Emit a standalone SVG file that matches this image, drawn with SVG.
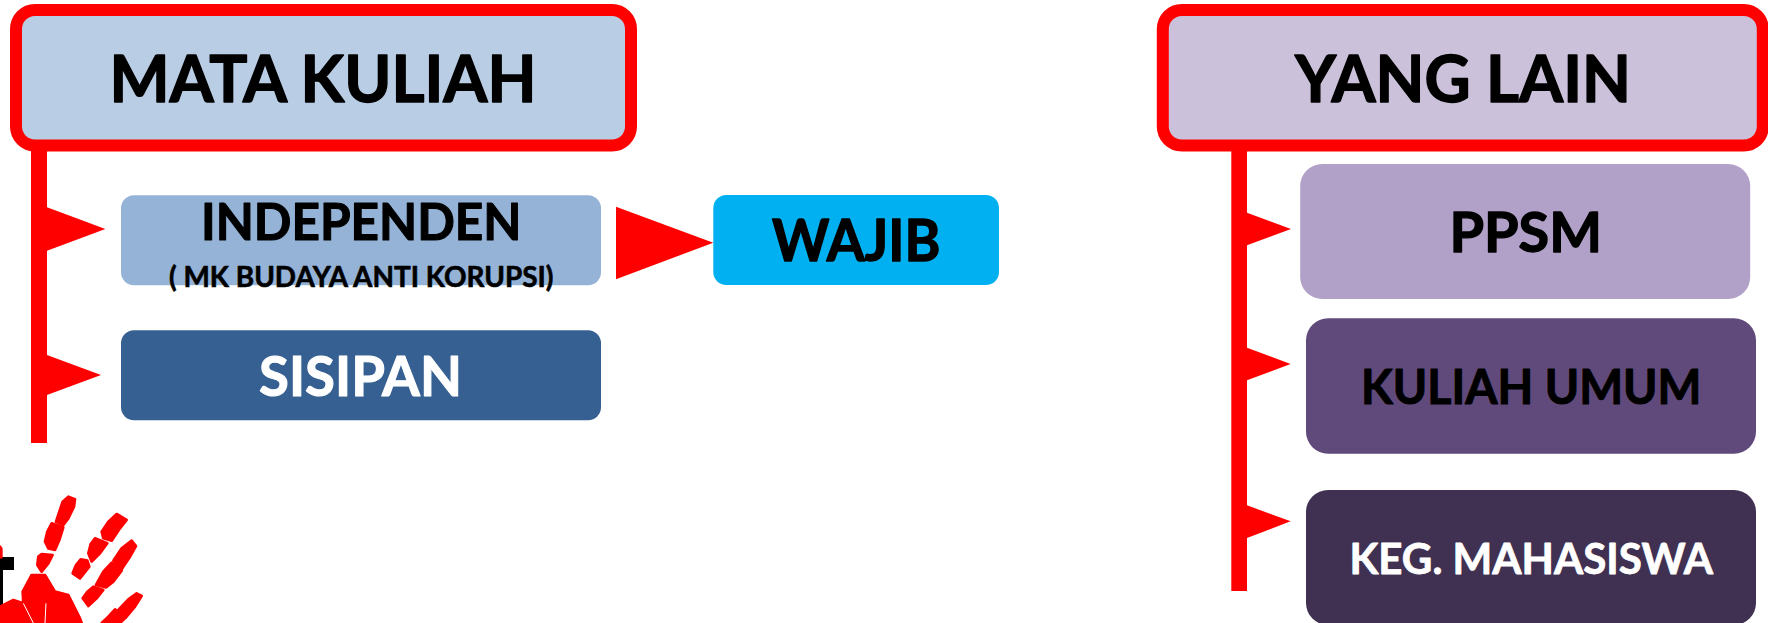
<svg xmlns="http://www.w3.org/2000/svg" width="1768" height="623" viewBox="0 0 1768 623">
<style>
text{font-family:Lato,"Open Sans","Liberation Sans",sans-serif;font-weight:700;fill:#000;stroke:#000;stroke-linejoin:round;}
.w{fill:#fff;stroke:#fff;}
.head{stroke:#f00;stroke-width:12;}
.c{fill:#f00;}
</style>
<rect width="1768" height="623" fill="#fff"/>
<g id="logo">
<rect x="0" y="557" width="14" height="13" fill="#000"/>
<rect x="0" y="570" width="3" height="36" fill="#000"/>
<g transform="translate(0,470) scale(0.33333)" fill="#f00" stroke="#f00" stroke-width="8" stroke-linejoin="round">
<path d="M0 230L4 236V262H0Z"/>
<path d="M205 80L225 88L222 110L205 145L190 165L168 155L178 125L188 95Z"/>
<path d="M155 160L190 172L178 210L165 240L145 235L135 215L142 185Z"/>
<path d="M125 252L158 255L145 280L125 305L112 285L115 260Z"/>
<path d="M350 132L380 150L360 175L335 212L310 205L305 185L325 155Z"/>
<path d="M285 205L322 220L300 250L275 275L265 250L272 222Z"/>
<path d="M242 268L262 272L268 290L240 325L218 310L228 285Z"/>
<path d="M395 212L408 228L390 260L365 298L340 272L365 235Z"/>
<path d="M335 278L365 302L340 335L318 352L288 345L310 305Z"/>
<path d="M280 350L310 360L290 385L265 408L248 385L262 365Z"/>
<path d="M410 370L425 378L405 410L378 442L355 420L385 388Z"/>
<path d="M345 418L375 445L360 459H305L325 440Z"/>
<path d="M95 315L135 315L165 365L205 375L240 445L245 459H0V410L40 390L70 400L68 365Z"/>
<path d="M70 400L100 459M138 400L135 459" stroke="#fff" stroke-width="3" fill="none"/>
</g>
</g>
<g id="connectors">
<rect class="c" x="31" y="140" width="16" height="303"/>
<polygon class="c" points="47,207.3 105.4,229 47,250.7"/>
<polygon class="c" points="47,355 101,375 47,395"/>
<polygon class="c" points="616,206.7 713.3,242.7 616,279.3"/>
<rect class="c" x="1231.3" y="140" width="15.7" height="451"/>
<polygon class="c" points="1247,212.7 1291,229 1247,245.3"/>
<polygon class="c" points="1247,347.7 1290.6,364 1247,380.3"/>
<polygon class="c" points="1247,505.3 1290.6,521.3 1247,538"/>
</g>
<g id="mata-kuliah">
<rect class="head" x="16" y="10" width="615" height="135.5" rx="19" fill="#B9CDE5"/>
<text x="109.5" y="102.4" font-size="65" stroke-width="1.4" textLength="427" lengthAdjust="spacingAndGlyphs">MATA KULIAH</text>
</g>
<g id="independen">
<rect x="121" y="195.3" width="480" height="90" rx="13" fill="#95B3D7"/>
<text x="201" y="240.4" font-size="51" stroke-width="1.1" textLength="320.4" lengthAdjust="spacingAndGlyphs">INDEPENDEN</text>
<text x="169" y="286.5" font-size="28" stroke-width="0.6" textLength="384.5" lengthAdjust="spacingAndGlyphs">( MK BUDAYA ANTI KORUPSI)</text>
</g>
<g id="sisipan">
<rect x="121" y="330.3" width="480" height="90" rx="13" fill="#366092"/>
<text class="w" x="259" y="396.4" font-size="56" stroke-width="1.1" textLength="203" lengthAdjust="spacingAndGlyphs">SISIPAN</text>
</g>
<g id="wajib">
<rect x="713.3" y="195" width="285.7" height="90" rx="13" fill="#00B0F0"/>
<text x="772" y="261.4" font-size="57" stroke-width="1.3" textLength="168.5" lengthAdjust="spacingAndGlyphs">WAJIB</text>
</g>
<g id="yang-lain">
<rect class="head" x="1162.8" y="10" width="600" height="135.5" rx="19" fill="#CCC1DA"/>
<text x="1295" y="102.4" font-size="65" stroke-width="1.4" textLength="336" lengthAdjust="spacingAndGlyphs">YANG LAIN</text>
</g>
<g id="ppsm">
<rect x="1300.2" y="164" width="450" height="135" rx="22" fill="#B1A0C7"/>
<text x="1449.5" y="252.4" font-size="56" stroke-width="1.3" textLength="152.5" lengthAdjust="spacingAndGlyphs">PPSM</text>
</g>
<g id="kuliah-umum">
<rect x="1306" y="318.3" width="450" height="135.4" rx="22" fill="#604A7B"/>
<text x="1361" y="404" font-size="47" stroke-width="1" textLength="340.5" lengthAdjust="spacingAndGlyphs">KULIAH UMUM</text>
</g>
<g id="keg-mahasiswa">
<rect x="1306" y="490" width="450" height="135" rx="22" fill="#403152"/>
<text class="w" x="1349.5" y="574.1" font-size="42" stroke-width="0.8" textLength="363.5" lengthAdjust="spacingAndGlyphs">KEG. MAHASISWA</text>
</g>
</svg>
